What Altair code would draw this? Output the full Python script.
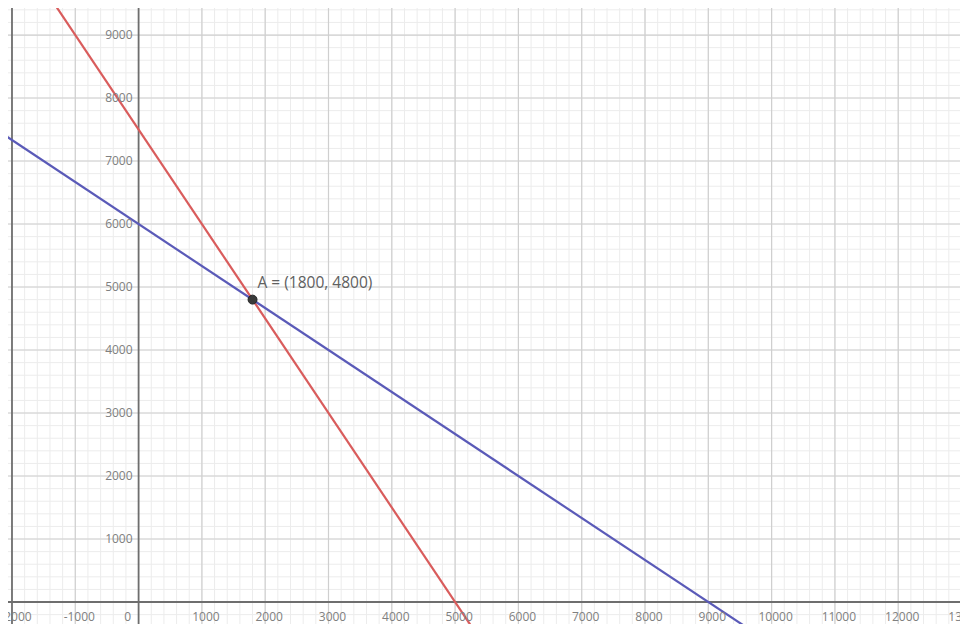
import altair as alt
import pandas as pd

# ---- data ----
x_major = [-2000, -1000, 0, 1000, 2000, 3000, 4000, 5000, 6000, 7000, 8000, 9000, 10000, 11000, 12000, 13000]
y_major = [0, 1000, 2000, 3000, 4000, 5000, 6000, 7000, 8000, 9000]
x_minor = list(range(-2000, 13200, 200))
y_minor = list(range(-400, 9600, 200))
x_labels = ["-2000", "-1000", "1000", "2000", "3000", "4000", "5000", "6000", "7000", "8000", "9000", "10000", "11000", "12000", "13000"]
x_label_vals = [-2000, -1000, 1000, 2000, 3000, 4000, 5000, 6000, 7000, 8000, 9000, 10000, 11000, 12000, 13000]
y_labels = ["1000", "2000", "3000", "4000", "5000", "6000", "7000", "8000", "9000"]
y_label_vals = [1000, 2000, 3000, 4000, 5000, 6000, 7000, 8000, 9000]

red_x = [-1500, 6000]
red_y = [9750, -1500]
blue_x = [-2100, 10500]
blue_y = [7400, -1000]
point_x = [1800]
point_y = [4800]
point_label = ["A = (1800, 4800)"]

XMIN, XMAX = -2063, 12976
YMIN, YMAX = -349, 9429
W, H = 952, 616

xs = alt.Scale(domain=[XMIN, XMAX], nice=False, zero=False)
ys = alt.Scale(domain=[YMIN, YMAX], nice=False, zero=False)

def X(f="x"):
    return alt.X(f"{f}:Q", scale=xs, axis=None)

def Y(f="y"):
    return alt.Y(f"{f}:Q", scale=ys, axis=None)

minor_v = alt.Chart(pd.DataFrame({"x": x_minor})).mark_rule(color="#ececec", strokeWidth=1).encode(x=X())
minor_h = alt.Chart(pd.DataFrame({"y": y_minor})).mark_rule(color="#ececec", strokeWidth=1).encode(y=Y())
major_v = alt.Chart(pd.DataFrame({"x": [v for v in x_major if v not in (0, -2000)]})).mark_rule(color="#cfcfcf", strokeWidth=1.2).encode(x=X())
major_h = alt.Chart(pd.DataFrame({"y": [v for v in y_major if v != 0]})).mark_rule(color="#cfcfcf", strokeWidth=1.2).encode(y=Y())
axes_v = alt.Chart(pd.DataFrame({"x": [0, -2000]})).mark_rule(color="#6e6e6e", strokeWidth=1.8).encode(x=X())
axes_h = alt.Chart(pd.DataFrame({"y": [0]})).mark_rule(color="#6e6e6e", strokeWidth=1.8).encode(y=Y())

red = alt.Chart(pd.DataFrame({"x": red_x, "y": red_y})).mark_line(color="#d95c5c", strokeWidth=2.2, clip=True).encode(x=X(), y=Y())
blue = alt.Chart(pd.DataFrame({"x": blue_x, "y": blue_y})).mark_line(color="#5a5ab8", strokeWidth=2.2, clip=True).encode(x=X(), y=Y())

pt = alt.Chart(pd.DataFrame({"x": point_x, "y": point_y})).mark_point(
    filled=True, size=80, color="#3a3a3a", stroke="#222222", strokeWidth=1, opacity=1
).encode(x=X(), y=Y())
pt_text = alt.Chart(pd.DataFrame({"x": point_x, "y": point_y, "t": point_label})).mark_text(
    align="left", baseline="middle", dx=5, dy=-17, fontSize=15.5, color="#606060", font="Open Sans"
).encode(x=X(), y=Y(), text="t:N")

xl = alt.Chart(pd.DataFrame({"x": x_label_vals, "t": x_labels, "y": [0] * len(x_labels)})).mark_text(
    align="center", baseline="middle", dx=4, dy=15, fontSize=12, color="#808080", font="Open Sans"
).encode(x=X(), y=Y(), text="t:N")
zl = alt.Chart(pd.DataFrame({"x": [0], "y": [0], "t": ["0"]})).mark_text(
    align="center", baseline="middle", dx=-11, dy=15, fontSize=12, color="#808080", font="Open Sans"
).encode(x=X(), y=Y(), text="t:N")
yl = alt.Chart(pd.DataFrame({"x": [0] * len(y_labels), "y": y_label_vals, "t": y_labels})).mark_text(
    align="right", baseline="middle", dx=-6, fontSize=12, color="#808080", font="Open Sans"
).encode(x=X(), y=Y(), text="t:N")

chart = alt.layer(
    minor_v, minor_h, major_v, major_h, axes_v, axes_h, red, blue, pt, pt_text, xl, zl, yl
).properties(
    width=W, height=H, padding=0, autosize=alt.AutoSizeParams(type="none")
).configure_view(stroke=None)

chart.save("out.html", embed_options={"renderer": "svg", "actions": False})
